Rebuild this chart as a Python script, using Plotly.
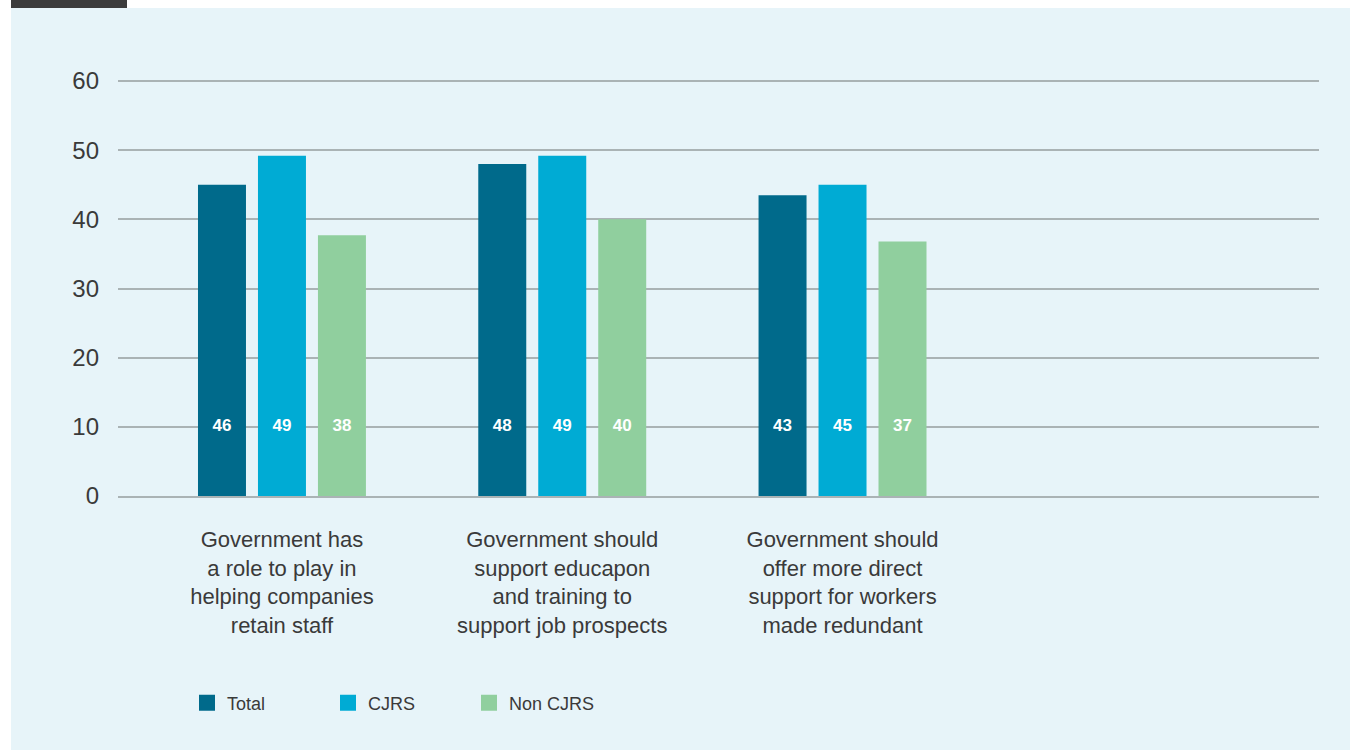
import plotly.graph_objects as go

categories = [
    "Government has<br>a role to play in<br>helping companies<br>retain staff",
    "Government should<br>support educapon<br>and training to<br>support job prospects",
    "Government should<br>offer more direct<br>support for workers<br>made redundant",
]
series_names = ["Total", "CJRS", "Non CJRS"]
total_vals = [45.0, 48.0, 43.5]
cjrs_vals = [49.2, 49.2, 45.0]
non_vals = [37.7, 40.0, 36.8]
total_labels = ["46", "48", "43"]
cjrs_labels = ["49", "49", "45"]
non_labels = ["38", "40", "37"]
label_level = [10, 10, 10]
y_ticks = [0, 10, 20, 30, 40, 50, 60]

colors = ["#006a8b", "#00abd4", "#90cf9e"]
values = [total_vals, cjrs_vals, non_vals]
labels = [total_labels, cjrs_labels, non_labels]

FONT = "Liberation Sans"
fig = go.Figure()
for name, vals, col in zip(series_names, values, colors):
    fig.add_trace(go.Bar(x=categories, y=vals, name=name, marker_color=col,
                         marker_line_width=0, offsetgroup=name, showlegend=False,
                         hoverinfo="skip"))
for name, labs in zip(series_names, labels):
    fig.add_trace(go.Scatter(x=categories, y=label_level, text=labs, mode="text",
                             offsetgroup=name, showlegend=False,
                             textfont=dict(color="white", size=17, family=FONT, weight="bold"),
                             hoverinfo="skip"))
# legend entries (square markers)
for name, col in zip(series_names, colors):
    fig.add_trace(go.Scatter(x=[None], y=[None], mode="markers", name=name,
                             offsetgroup=name,
                             marker=dict(symbol="square", size=16, color=col),
                             hoverinfo="skip"))

W, H = 1350, 750
L, R, T, B = 118, 1319, 80, 496
def px(x):
    return (x - L) / (R - L)
def py(y):
    return (B - y) / (B - T)

shapes = [
    dict(type="rect", xref="paper", yref="paper", x0=px(0), x1=px(W), y0=py(0), y1=py(8),
         fillcolor="white", line_width=0, layer="below"),
    dict(type="rect", xref="paper", yref="paper", x0=px(0), x1=px(11), y0=py(0), y1=py(H),
         fillcolor="white", line_width=0, layer="below"),
    dict(type="rect", xref="paper", yref="paper", x0=px(11), x1=px(127), y0=py(0), y1=py(8),
         fillcolor="#3c3c3c", line_width=0, layer="below"),
]

fig.update_layout(
    width=W, height=H,
    margin=dict(l=L, r=W - R, t=T, b=H - B, autoexpand=False),
    paper_bgcolor="#e7f4f9", plot_bgcolor="#e7f4f9",
    barmode="group", bargap=0.358, bargroupgap=0.2,
    scattermode="group", scattergap=0.358,
    font=dict(family=FONT, color="#3a3a3a"),
    shapes=shapes,
    showlegend=True,
    legend=dict(orientation="h", x=px(187), xanchor="left", y=py(703), yanchor="middle",
                font=dict(size=18, color="#3a3a3a"), entrywidth=96, entrywidthmode="pixels",
                itemclick=False, bgcolor="rgba(0,0,0,0)", tracegroupgap=0),
)
fig.update_yaxes(range=[0, 60.15], tickvals=y_ticks, showgrid=True, gridcolor="#aab3b5",
                 gridwidth=1.5, zeroline=False, showline=False, ticks="",
                 tickfont=dict(size=24, color="#3a3a3a"), ticklabelstandoff=18)
fig.update_xaxes(range=[-0.585, 3.70], showgrid=False, showline=True, linecolor="#aab3b5",
                 linewidth=1.5, ticks="", tickfont=dict(size=22, color="#3a3a3a"),
                 ticklabelstandoff=23)

fig.write_html("out.html", config={"displayModeBar": False},
               post_script="document.body.style.margin='0px';")
